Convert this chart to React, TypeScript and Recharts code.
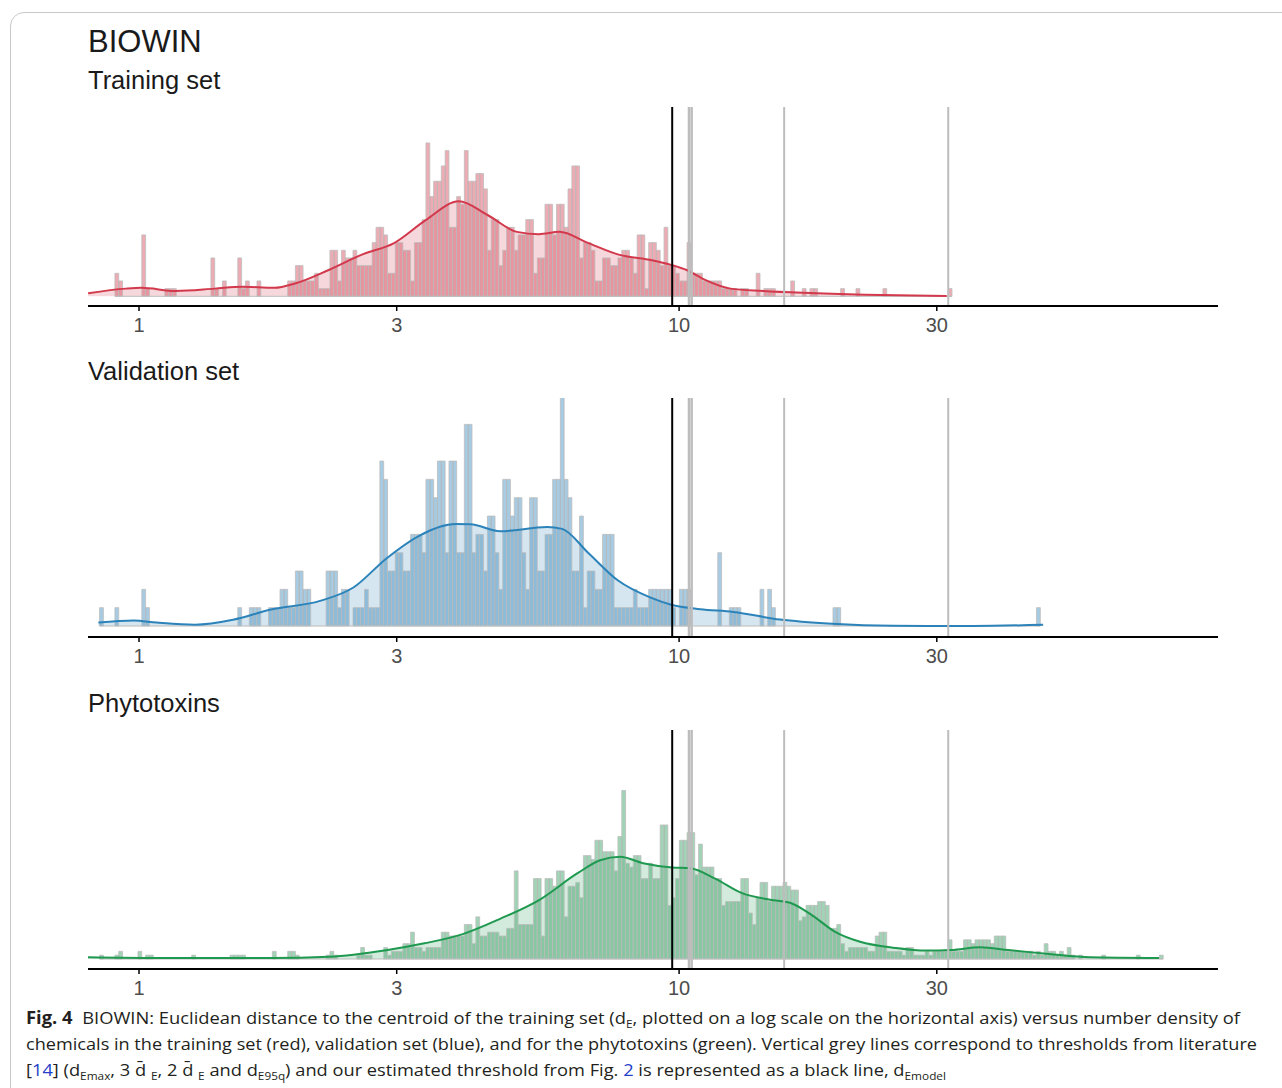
import React from 'react'
import { ComposedChart, Bar, Area, Line, XAxis, YAxis, ReferenceLine } from 'recharts'

// histogram bins are equal steps of log10(dE), shared by the three panels
const BIN_LOG_START = -0.0944
const BIN_LOG_WIDTH = 0.00711

const X_DOMAIN: [number, number] = [0.8045, 99.5]
const X_TICKS = [1, 3, 10, 30]

// thresholds: our model (black) and literature (grey)
const D_EMODEL = 9.71
const LIT_THRESHOLDS = [10.43, 10.55, 15.65, 31.5]

// training set counts, starting at bin 7
const TRAIN_FIRST_BIN = 7
const TRAIN_COUNTS = [
  3, 2, 0, 0, 0, 0, 0, 8, 1, 0,
  0, 0, 0, 1, 1, 1, 0, 0, 0, 0,
  0, 0, 0, 0, 0, 5, 1, 0, 2, 0,
  0, 0, 5, 1, 2, 0, 0, 2, 0, 0,
  0, 0, 0, 0, 0, 2, 2, 4, 4, 2,
  2, 2, 3, 1, 1, 1, 6, 6, 2, 6,
  5, 5, 6, 4, 4, 4, 4, 7, 9, 9,
  8, 3, 3, 7, 7, 6, 6, 2, 7, 7,
  10, 20, 13, 15, 15, 17, 19, 9, 9, 13,
  12, 19, 15, 15, 16, 16, 14, 6, 10, 10,
  4, 6, 9, 9, 6, 8, 8, 10, 10, 3,
  5, 5, 12, 12, 8, 12, 12, 9, 14, 17,
  17, 5, 7, 7, 6, 2, 2, 5, 5, 4,
  4, 5, 6, 6, 5, 3, 8, 8, 1, 7,
  7, 6, 4, 9, 4, 4, 3, 2, 2, 7,
  3, 3, 3, 2, 2, 2, 2, 2, 1, 1,
  1, 1, 0, 1, 1, 0, 0, 3, 0, 1,
  1, 1, 0, 0, 0, 0, 2, 0, 0, 1,
  0, 1, 1, 0, 0, 0, 0, 0, 0, 1,
  0, 0, 0, 1, 0, 0, 0, 0, 0, 0,
  1, 0, 0, 0, 0, 0, 0, 0, 0, 0,
  0, 0, 0, 0, 0, 0, 0, 1,
]
const TRAIN_DENS_D = [0.805, 0.946, 1.01, 1.17, 1.38, 1.55, 1.78, 1.95, 2.24, 2.6, 2.96, 3.39, 3.91, 4.42, 5.01, 5.5, 6.0, 6.76, 7.76, 8.91, 9.66, 10.35, 11.2, 12.45, 14.3, 17.0, 22.1, 31.3]
const TRAIN_DENS_Y = [0.4, 1.0, 1.1, 0.7, 1.0, 1.25, 1.1, 1.7, 3.4, 5.5, 6.9, 9.9, 12.4, 10.6, 8.4, 8.1, 8.4, 7.0, 5.4, 4.7, 4.1, 3.4, 2.1, 1.0, 0.7, 0.45, 0.2, 0.04]

// validation set counts, starting at bin 3
const VALID_FIRST_BIN = 3
const VALID_COUNTS = [
  1, 0, 0, 0, 1, 0, 0, 0, 0, 0,
  0, 2, 1, 0, 0, 0, 0, 0, 0, 0,
  0, 0, 0, 0, 0, 0, 0, 0, 0, 0,
  0, 0, 0, 0, 0, 0, 1, 0, 0, 1,
  1, 1, 0, 0, 1, 1, 1, 2, 2, 1,
  1, 3, 3, 2, 2, 0, 0, 0, 0, 3,
  3, 3, 1, 2, 2, 0, 1, 1, 1, 2,
  1, 1, 1, 9, 8, 3, 3, 4, 4, 3,
  3, 5, 5, 5, 4, 8, 8, 7, 9, 9,
  4, 9, 9, 4, 4, 11, 11, 4, 5, 5,
  3, 6, 6, 4, 2, 8, 8, 6, 7, 7,
  4, 2, 7, 7, 3, 3, 5, 5, 8, 8,
  13, 8, 7, 3, 3, 6, 1, 3, 3, 2,
  2, 5, 5, 5, 1, 1, 1, 1, 1, 2,
  1, 1, 1, 2, 2, 2, 2, 2, 2, 1,
  0, 2, 2, 2, 0, 0, 0, 0, 0, 0,
  0, 4, 0, 0, 1, 1, 1, 0, 0, 0,
  0, 0, 2, 0, 2, 1, 0, 0, 0, 0,
  0, 0, 0, 0, 0, 0, 0, 0, 0, 0,
  0, 1, 1, 0, 0, 0, 0, 0, 0, 0,
  0, 0, 0, 0, 0, 0, 0, 0, 0, 0,
  0, 0, 0, 0, 0, 0, 0, 0, 0, 0,
  0, 0, 0, 0, 0, 0, 0, 0, 0, 0,
  0, 0, 0, 0, 0, 0, 0, 0, 0, 0,
  0, 0, 0, 0, 1,
]
const VALID_DENS_D = [0.841, 0.977, 1.077, 1.269, 1.493, 1.755, 2.164, 2.494, 2.875, 3.314, 3.848, 4.109, 4.661, 5.694, 6.072, 6.783, 7.709, 8.837, 9.67, 10.94, 12.6, 15.38, 19.2, 24.9, 35.0, 47.2]
const VALID_DENS_Y = [0.19, 0.3, 0.19, 0.07, 0.34, 0.9, 1.37, 2.1, 3.7, 4.95, 5.56, 5.55, 5.17, 5.4, 5.3, 4.0, 2.48, 1.56, 1.16, 0.92, 0.77, 0.35, 0.12, 0.01, 0.0, 0.07]

// phytotoxin counts, starting at bin 3
const PHYTO_FIRST_BIN = 3
const PHYTO_COUNTS = [
  1, 0, 0, 0, 1, 2, 0, 0, 0, 0,
  2, 0, 1, 1, 0, 0, 0, 0, 0, 0,
  0, 0, 0, 0, 1, 0, 0, 0, 0, 0,
  0, 0, 0, 0, 1, 1, 1, 1, 0, 0,
  0, 0, 0, 0, 0, 2, 0, 0, 0, 2,
  2, 1, 0, 0, 0, 0, 0, 0, 0, 1,
  2, 1, 0, 0, 0, 0, 0, 1, 3, 1,
  1, 0, 0, 0, 3, 1, 2, 2, 2, 4,
  4, 7, 3, 3, 2, 3, 3, 3, 3, 7,
  7, 6, 6, 6, 6, 9, 9, 4, 11, 6,
  6, 7, 7, 7, 6, 6, 8, 8, 23, 9,
  9, 9, 9, 21, 21, 6, 21, 21, 19, 23,
  23, 11, 19, 19, 20, 16, 27, 27, 26, 31,
  31, 28, 28, 28, 23, 32, 44, 25, 24, 27,
  27, 21, 21, 25, 21, 21, 35, 35, 14, 16,
  21, 31, 31, 33, 33, 22, 30, 24, 24, 24,
  21, 21, 14, 15, 15, 15, 15, 21, 21, 12,
  9, 16, 20, 20, 15, 19, 19, 19, 20, 19,
  18, 18, 10, 11, 14, 14, 14, 15, 15, 14,
  8, 8, 9, 4, 2, 3, 3, 3, 3, 3,
  2, 2, 6, 7, 7, 2, 2, 2, 2, 1,
  3, 3, 1, 1, 1, 2, 1, 2, 2, 2,
  2, 5, 2, 2, 2, 5, 5, 4, 5, 5,
  5, 5, 4, 6, 6, 6, 2, 2, 2, 2,
  2, 2, 2, 1, 2, 1, 4, 2, 2, 1,
  2, 1, 3, 1, 0, 1, 0, 0, 0, 0,
  0, 1, 0, 0, 0, 0, 0, 0, 0, 0,
  1, 0, 0, 0, 0, 0, 1,
]
const PHYTO_DENS_D = [0.804, 1.077, 1.755, 2.246, 2.867, 3.377, 3.976, 4.68, 5.505, 6.486, 7.14, 7.775, 8.578, 9.7, 10.48, 11.66, 13.08, 14.74, 16.05, 17.48, 19.45, 21.63, 25.12, 28.67, 31.9, 36.1, 40.7, 48.4, 57.7, 77.4]
const PHYTO_DENS_Y = [0.44, 0.26, 0.26, 0.6, 2.3, 4.1, 6.5, 10.6, 15.4, 22.4, 25.8, 26.7, 25.0, 23.9, 23.7, 21.0, 17.2, 15.5, 14.7, 11.8, 7.1, 4.5, 2.9, 2.2, 2.35, 3.05, 2.35, 1.3, 0.44, 0.26]

const FONT = '"Liberation Sans", Arial, Helvetica, sans-serif'
const BAR_EDGE = '#bcbcbc'
const LIT_GREY = '#bdbdbd'

const PANELS = [
  { title: 'Training set', titleTop: 68, top: 107, plotHeight: 199, yDomain: [-1.265, 24.68], first: TRAIN_FIRST_BIN, counts: TRAIN_COUNTS, densD: TRAIN_DENS_D, densY: TRAIN_DENS_Y, color: '#d3394c' },
  { title: 'Validation set', titleTop: 359, top: 398, plotHeight: 239, yDomain: [-0.6, 12.44], first: VALID_FIRST_BIN, counts: VALID_COUNTS, densD: VALID_DENS_D, densY: VALID_DENS_Y, color: '#2b83ba' },
  { title: 'Phytotoxins', titleTop: 691, top: 730, plotHeight: 239, yDomain: [-2.61, 59.8], first: PHYTO_FIRST_BIN, counts: PHYTO_COUNTS, densD: PHYTO_DENS_D, densY: PHYTO_DENS_Y, color: '#1f9950' },
]

const binEdge = (i: number) => Math.pow(10, BIN_LOG_START + i * BIN_LOG_WIDTH)

function Panel({ p }: { p: typeof PANELS[number] }) {
  const bins = p.counts.map((n, k) => ({ d: binEdge(p.first + k + 0.5), n }))
  const dens = p.densD.map((d, k) => ({ d, y: p.densY[k] }))
  const lo = binEdge(p.first)
  const hi = binEdge(p.first + p.counts.length)
  return (
    <div style={{ position: 'absolute', left: 0, top: p.top }}>
      <ComposedChart width={1282} height={p.plotHeight + 40} data={bins}
        margin={{ top: 0, right: 64, bottom: 0, left: 88 }} barGap={0} barCategoryGap={0}>
        <XAxis xAxisId="bins" dataKey="d" type="number" scale="log" domain={X_DOMAIN} allowDataOverflow
          ticks={X_TICKS} interval={0} height={40} tickSize={5} tickMargin={7}
          tickLine={{ stroke: '#000', strokeWidth: 1.5 }} axisLine={{ stroke: '#000', strokeWidth: 2 }}
          tick={{ fill: '#4d4d4d', fontSize: 20, fontFamily: FONT }} />
        <XAxis xAxisId="dens" dataKey="d" type="number" scale="log" domain={X_DOMAIN} allowDataOverflow hide />
        <YAxis type="number" domain={p.yDomain} allowDataOverflow width={0} tick={false} tickLine={false}
          axisLine={{ stroke: '#000', strokeWidth: 2 }} />
        <Area xAxisId="dens" data={dens} dataKey="y" type="monotone" stroke="none" fill={p.color}
          fillOpacity={0.2} baseValue={0} dot={false} activeDot={false} isAnimationActive={false} />
        <Bar xAxisId="bins" dataKey="n" barSize={3.8} fill={p.color} fillOpacity={0.42}
          stroke={BAR_EDGE} strokeWidth={0.8} isAnimationActive={false} />
        <ReferenceLine xAxisId="bins" segment={[{ x: lo, y: 0 }, { x: hi, y: 0 }]} stroke={BAR_EDGE} strokeWidth={1} />
        <Line xAxisId="dens" data={dens} dataKey="y" type="monotone" stroke={p.color} strokeWidth={2}
          dot={false} activeDot={false} isAnimationActive={false} />
        <ReferenceLine xAxisId="bins" x={D_EMODEL} stroke="#000" strokeWidth={2} />
        {LIT_THRESHOLDS.map((t, k) => (
          <ReferenceLine key={k} xAxisId="bins" x={t} stroke={LIT_GREY} strokeWidth={k < 2 ? 2.5 : 2} />
        ))}
      </ComposedChart>
    </div>
  )
}

const LINK = '#2440c8'
const SUB = { fontSize: 11, dy: 4 }

export default function App() {
  return (
    <div style={{ position: 'absolute', left: 0, top: 0, width: 1282, height: 1088, overflow: 'hidden', background: '#fff', fontFamily: FONT }}>
      <div style={{ position: 'absolute', left: 10, top: 12, width: 1400, height: 1200, border: '1px solid #c9c9c9', borderRadius: 14 }} />
      <div style={{ position: 'absolute', left: 88, top: 26, fontSize: 31, lineHeight: 1, color: '#1a1a1a' }}>BIOWIN</div>
      {PANELS.map((p) => (
        <div key={p.title} style={{ position: 'absolute', left: 88, top: p.titleTop, fontSize: 25.5, lineHeight: 1, color: '#1a1a1a' }}>{p.title}</div>
      ))}
      {PANELS.map((p) => <Panel key={p.title} p={p} />)}
      <svg width={1282} height={88} style={{ position: 'absolute', left: 0, top: 1000 }}
        fontFamily='"Open Sans", "Noto Sans", sans-serif' fontSize={17} fill="#231f20">
        <text x={26} y={24} textLength={1214} lengthAdjust="spacingAndGlyphs">
          <tspan fontWeight="bold">Fig. 4</tspan>
          <tspan dx={9}>BIOWIN: Euclidean distance to the centroid of the training set (d</tspan>
          <tspan {...SUB}>E</tspan>
          <tspan dy={-4}>, plotted on a log scale on the horizontal axis) versus number density of</tspan>
        </text>
        <text x={26} y={50} textLength={1231} lengthAdjust="spacingAndGlyphs">
          chemicals in the training set (red), validation set (blue), and for the phytotoxins (green). Vertical grey lines correspond to thresholds from literature
        </text>
        <text x={26} y={76} textLength={920} lengthAdjust="spacingAndGlyphs">
          <tspan>[</tspan>
          <tspan fill={LINK}>14</tspan>
          <tspan>] (d</tspan>
          <tspan {...SUB}>Emax</tspan>
          <tspan dy={-4}>, 3 {'d\u0304'} </tspan>
          <tspan {...SUB}>E</tspan>
          <tspan dy={-4}>, 2 {'d\u0304'} </tspan>
          <tspan {...SUB}>E</tspan>
          <tspan dy={-4}> and d</tspan>
          <tspan {...SUB}>E95q</tspan>
          <tspan dy={-4}>) and our estimated threshold from Fig. </tspan>
          <tspan fill={LINK}>2</tspan>
          <tspan> is represented as a black line, d</tspan>
          <tspan {...SUB}>Emodel</tspan>
        </text>
      </svg>
    </div>
  )
}
